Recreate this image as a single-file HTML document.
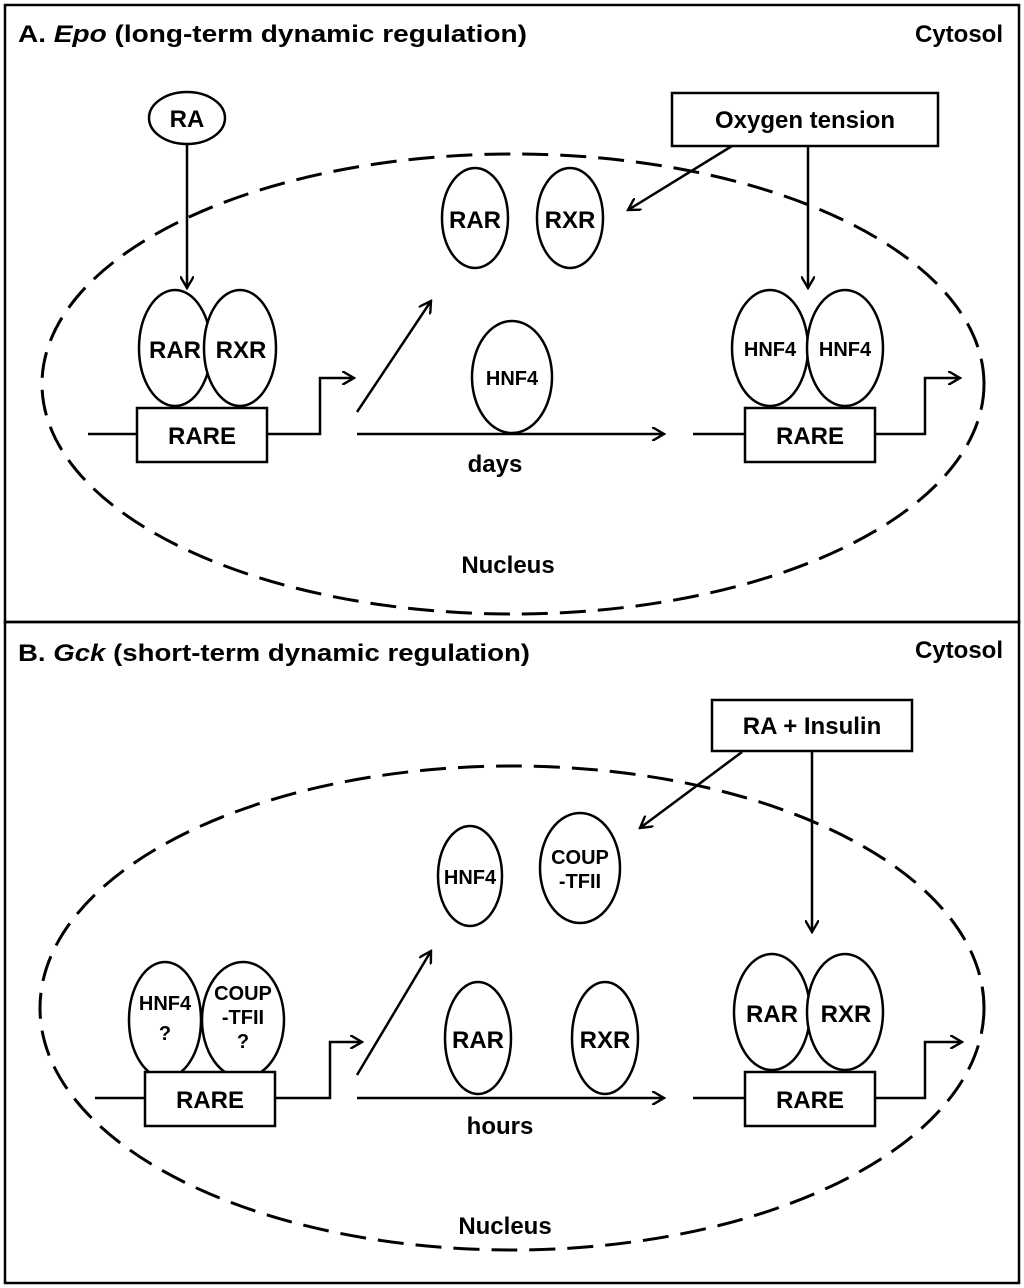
<!DOCTYPE html>
<html><head><meta charset="utf-8"><style>
html,body{margin:0;padding:0;background:#fff}
svg{display:block}
text{font-family:"Liberation Sans",Arial,sans-serif;font-weight:bold;fill:#000}
</style></head><body>
<svg width="1024" height="1288" viewBox="0 0 1024 1288" xmlns="http://www.w3.org/2000/svg">
<defs>
<marker id="ah" markerWidth="14" markerHeight="14" refX="12" refY="7" orient="auto" markerUnits="userSpaceOnUse">
<path d="M0,0 L12,7 L0,14" fill="none" stroke="#000" stroke-width="2.4"/>
</marker>
</defs>
<g fill="none" stroke="#000" stroke-width="2.5">
<rect x="5" y="5" width="1014" height="617"/>
<rect x="5" y="622" width="1014" height="661"/>
</g>
<!-- Panel A -->
<text x="18" y="42" font-size="24" textLength="509" lengthAdjust="spacingAndGlyphs">A. <tspan font-style="italic">Epo</tspan> (long-term dynamic regulation)</text>
<text x="1003" y="42" font-size="24" text-anchor="end">Cytosol</text>
<g fill="#fff" stroke="#000" stroke-width="2.5">
<ellipse cx="513" cy="384" rx="471" ry="230" stroke-width="3" stroke-dasharray="26,12"/>
<ellipse cx="187" cy="118" rx="38" ry="26"/>
<rect x="672" y="93" width="266" height="53"/>
<ellipse cx="175" cy="348" rx="36" ry="58"/>
<ellipse cx="240" cy="348" rx="36" ry="58"/>
<rect x="137" y="408" width="130" height="54"/>
<ellipse cx="475" cy="218" rx="33" ry="50"/>
<ellipse cx="570" cy="218" rx="33" ry="50"/>
<ellipse cx="512" cy="377" rx="40" ry="56"/>
<ellipse cx="770" cy="348" rx="38" ry="58"/>
<ellipse cx="845" cy="348" rx="38" ry="58"/>
<rect x="745" y="408" width="130" height="54"/>
</g>
<g fill="none" stroke="#000" stroke-width="2.5">
<line x1="88" y1="434" x2="137" y2="434"/>
<polyline points="267,434 320,434 320,378 354,378" marker-end="url(#ah)"/>
<line x1="357" y1="412" x2="431" y2="301" marker-end="url(#ah)"/>
<line x1="357" y1="434" x2="664" y2="434" marker-end="url(#ah)"/>
<line x1="693" y1="434" x2="745" y2="434"/>
<polyline points="875,434 925,434 925,378 960,378" marker-end="url(#ah)"/>
<line x1="187" y1="144" x2="187" y2="288" marker-end="url(#ah)"/>
<line x1="732" y1="146" x2="628" y2="210" marker-end="url(#ah)"/>
<line x1="808" y1="146" x2="808" y2="288" marker-end="url(#ah)"/>
</g>
<g font-size="24" text-anchor="middle">
<text x="187" y="127">RA</text>
<text x="805" y="128">Oxygen tension</text>
<text x="175" y="358">RAR</text>
<text x="241" y="358">RXR</text>
<text x="202" y="444">RARE</text>
<text x="475" y="228">RAR</text>
<text x="570" y="228">RXR</text>
<text x="512" y="385" font-size="20">HNF4</text>
<text x="770" y="356" font-size="20">HNF4</text>
<text x="845" y="356" font-size="20">HNF4</text>
<text x="810" y="444">RARE</text>
<text x="495" y="472">days</text>
<text x="508" y="573">Nucleus</text>
</g>
<!-- Panel B -->
<text x="18" y="661" font-size="24" textLength="512" lengthAdjust="spacingAndGlyphs">B. <tspan font-style="italic">Gck</tspan> (short-term dynamic regulation)</text>
<text x="1003" y="658" font-size="24" text-anchor="end">Cytosol</text>
<g fill="#fff" stroke="#000" stroke-width="2.5">
<ellipse cx="512" cy="1008" rx="472" ry="242" stroke-width="3" stroke-dasharray="26,12"/>
<rect x="712" y="700" width="200" height="51"/>
<ellipse cx="165" cy="1020" rx="36" ry="58"/>
<ellipse cx="243" cy="1020" rx="41" ry="58"/>
<rect x="145" y="1072" width="130" height="54"/>
<ellipse cx="470" cy="876" rx="32" ry="50"/>
<ellipse cx="580" cy="868" rx="40" ry="55"/>
<ellipse cx="478" cy="1038" rx="33" ry="56"/>
<ellipse cx="605" cy="1038" rx="33" ry="56"/>
<ellipse cx="772" cy="1012" rx="38" ry="58"/>
<ellipse cx="845" cy="1012" rx="38" ry="58"/>
<rect x="745" y="1072" width="130" height="54"/>
</g>
<g fill="none" stroke="#000" stroke-width="2.5">
<line x1="95" y1="1098" x2="145" y2="1098"/>
<polyline points="275,1098 330,1098 330,1042 362,1042" marker-end="url(#ah)"/>
<line x1="357" y1="1075" x2="431" y2="951" marker-end="url(#ah)"/>
<line x1="357" y1="1098" x2="664" y2="1098" marker-end="url(#ah)"/>
<line x1="693" y1="1098" x2="745" y2="1098"/>
<polyline points="875,1098 925,1098 925,1042 962,1042" marker-end="url(#ah)"/>
<line x1="742" y1="752" x2="640" y2="828" marker-end="url(#ah)"/>
<line x1="812" y1="752" x2="812" y2="932" marker-end="url(#ah)"/>
</g>
<g font-size="24" text-anchor="middle">
<text x="812" y="734">RA + Insulin</text>
<text x="165" y="1010" font-size="20">HNF4</text>
<text x="165" y="1040" font-size="20">?</text>
<text x="243" y="1000" font-size="20">COUP</text>
<text x="243" y="1024" font-size="20">-TFII</text>
<text x="243" y="1048" font-size="20">?</text>
<text x="210" y="1108">RARE</text>
<text x="470" y="884" font-size="20">HNF4</text>
<text x="580" y="864" font-size="20">COUP</text>
<text x="580" y="888" font-size="20">-TFII</text>
<text x="478" y="1048">RAR</text>
<text x="605" y="1048">RXR</text>
<text x="772" y="1022">RAR</text>
<text x="846" y="1022">RXR</text>
<text x="810" y="1108">RARE</text>
<text x="500" y="1134">hours</text>
<text x="505" y="1234">Nucleus</text>
</g>
</svg>
</body></html>
